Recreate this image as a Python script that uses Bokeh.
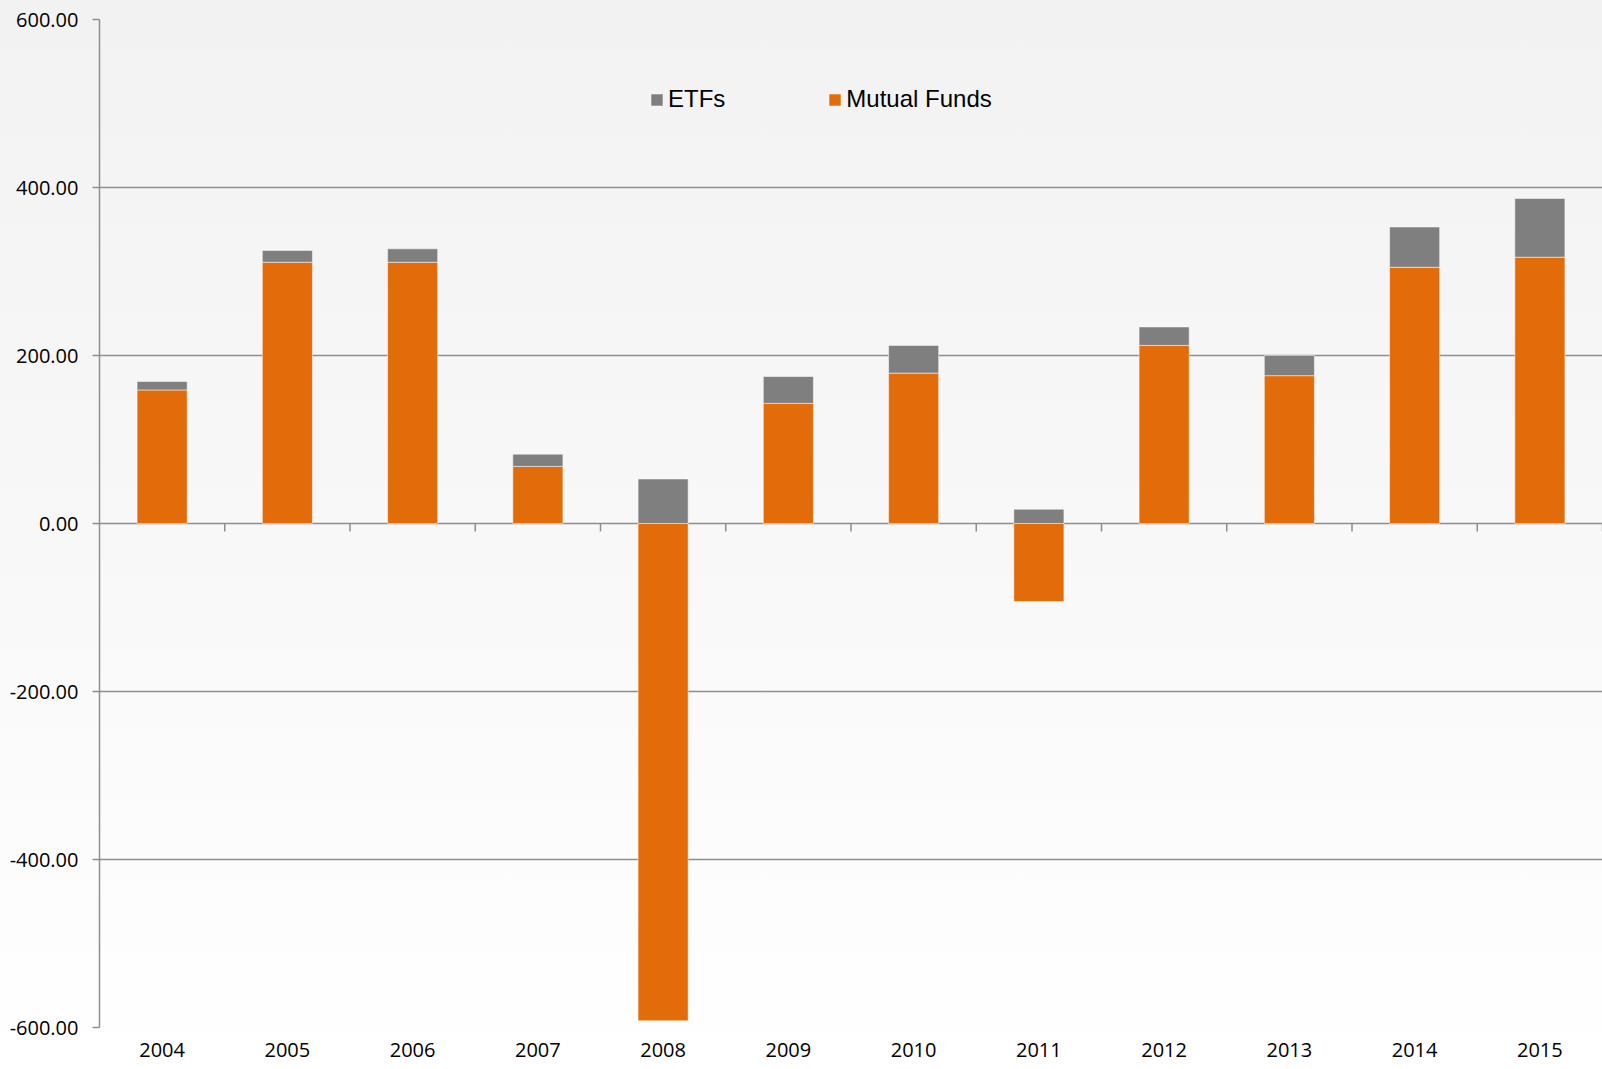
from bokeh.plotting import figure
from bokeh.models import (Range1d, FixedTicker, NumeralTickFormatter,
                          ColumnDataSource, Legend, LegendItem)
from bokeh.embed import file_html
from bokeh.resources import INLINE

years = ["2004", "2005", "2006", "2007", "2008", "2009", "2010", "2011", "2012", "2013", "2014", "2015"]
mutual_funds = [159, 311, 311, 68, -592, 143, 179, -93, 212, 176, 305, 317]
etfs = [10, 14, 16, 14.5, 53, 32, 33, 17, 22, 24, 48, 70]
y_ticks = [-600, -400, -200, 0, 200, 400, 600]

ORANGE = "#E36C0A"
GREY_BAR = "#7F7F7F"
AXIS = "#8E8E8E"
TICK_LEN = 9.5  # style: length of the category ticks under the zero line, in data units

n = len(years)
centers = [i + 0.5 for i in range(n)]
boundaries = [i + 1 for i in range(n)]
etf_bottom = [max(m, 0) for m in mutual_funds]
etf_top = [b + e for b, e in zip(etf_bottom, etfs)]

src = ColumnDataSource(dict(x=centers, mf=mutual_funds, eb=etf_bottom, et=etf_top))
tick_src = ColumnDataSource(dict(x=boundaries, y0=[0] * n, y1=[-TICK_LEN] * n))

p = figure(width=1602, height=1069, output_backend="svg", toolbar_location=None,
           x_range=Range1d(0, n), y_range=Range1d(-600, 600),
           min_border_left=99, min_border_top=19, min_border_right=0, min_border_bottom=42)
p.styles = {"background": "linear-gradient(to bottom, #f2f2f2 0%, #f8f8f8 50%, #ffffff 100%)"}
p.border_fill_color = None
p.background_fill_color = None
p.outline_line_color = None

# bottom axis with year labels
xa = p.xaxis[0]
xa.ticker = FixedTicker(ticks=centers)
xa.major_label_overrides = {c: y for c, y in zip(centers, years)}
xa.axis_line_color = None
xa.major_tick_line_color = None
xa.major_tick_out = 0
xa.major_tick_in = 0
xa.minor_tick_line_color = None
xa.major_label_standoff = 15
xa.major_label_text_font = "Open Sans"
xa.major_label_text_font_size = "20px"
xa.major_label_text_color = "#000000"

ya = p.yaxis[0]
ya.ticker = FixedTicker(ticks=y_ticks)
ya.formatter = NumeralTickFormatter(format="0.00")
ya.axis_line_color = AXIS
ya.axis_line_width = 1.5
ya.major_tick_line_color = AXIS
ya.major_tick_line_width = 1.5
ya.major_tick_out = 7
ya.major_tick_in = 0
ya.minor_tick_line_color = None
ya.major_label_standoff = 14
ya.major_label_text_font = "Open Sans"
ya.major_label_text_font_size = "20px"
ya.major_label_text_color = "#000000"

p.xgrid.grid_line_color = None
p.ygrid.ticker = FixedTicker(ticks=y_ticks)
p.ygrid.grid_line_color = AXIS
p.ygrid.grid_line_width = 1.5

# category separator ticks hanging below the zero line
p.segment(x0="x", y0="y0", x1="x", y1="y1", source=tick_src,
          line_color=AXIS, line_width=1.5)

r_mf = p.vbar(x="x", width=0.4, bottom=0, top="mf", source=src,
              fill_color=ORANGE, line_color="white", line_alpha=0.5, line_width=1)
r_etf = p.vbar(x="x", width=0.4, bottom="eb", top="et", source=src,
               fill_color=GREY_BAR, line_color="white", line_alpha=0.5, line_width=1)

legend = Legend(items=[LegendItem(label="ETFs", renderers=[r_etf]),
                       LegendItem(label="Mutual Funds", renderers=[r_mf])],
                orientation="horizontal", location=(550, 914),
                glyph_width=15, glyph_height=15, label_standoff=4, spacing=102,
                padding=0, margin=0,
                label_text_font="Liberation Sans", label_text_font_size="24px",
                label_text_color="#000000",
                background_fill_alpha=0, border_line_color=None)
p.add_layout(legend, "center")

open("out.html", "w").write(file_html(p, INLINE))
